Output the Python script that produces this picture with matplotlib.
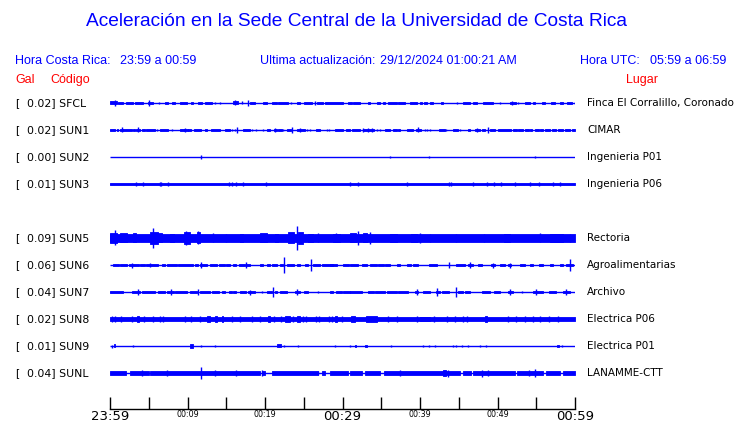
import matplotlib
matplotlib.use('Agg')
import matplotlib.pyplot as plt

# datos de las estaciones
codigos = ['SFCL', 'SUN1', 'SUN2', 'SUN3', 'SUN5', 'SUN6', 'SUN7', 'SUN8', 'SUN9', 'SUNL']
gal = [0.02, 0.02, 0.00, 0.01, 0.09, 0.06, 0.04, 0.02, 0.01, 0.04]
lugares = ['Finca El Corralillo, Coronado', 'CIMAR', 'Ingenieria P01', 'Ingenieria P06',
           'Rectoria', 'Agroalimentarias', 'Archivo', 'Electrica P06', 'Electrica P01',
           'LANAMME-CTT']
# ruido continuo (semi-amplitud), 0 = solo linea
banda = [0, 0, 0, 1.4, 3.6, 0, 0, 1.6, 0, 1.8]
tramos_sunl = [(0, 2.1), (2.6, 5.0), (5.2, 19.3), (19.6, 20.0), (20.9, 26.9), (27.3, 27.7),
               (28.4, 30.7), (31.0, 32.5), (32.9, 34.8), (35.3, 45.2), (45.6, 46.6),
               (46.9, 52.2), (52.5, 55.9), (56.2, 58.0), (58.4, 60)]

# rafagas: (minuto inicio, minuto fin, semi-amplitud)
sfcl = [(0.0, 0.9, 1.5), (0.6, 0.7, 2.7), (1.0, 1.7, 1.3), (2.1, 3.0, 1.3), (3.2, 4.3, 1.3),
        (4.9, 5.6, 1.3), (5.0, 5.0, 3.0), (6.3, 6.3, 1.0), (7.1, 7.5, 1.2), (8.0, 8.4, 1.2),
        (9.0, 9.9, 1.2), (10.4, 10.7, 1.0), (11.3, 11.9, 1.2), (12.3, 13.2, 1.2), (13.5, 13.5, 1.0),
        (14.2, 14.2, 1.0), (15.9, 16.5, 1.5), (16.1, 16.1, 2.5), (17.0, 17.1, 1.5), (17.8, 17.8, 3.0),
        (18.1, 18.7, 1.3), (19.7, 20.3, 1.2), (20.9, 21.5, 1.3), (21.7, 23.0, 1.3), (23.3, 23.3, 1.0),
        (24.1, 24.5, 1.2), (25.0, 26.1, 1.3), (26.4, 26.4, 2.0), (26.7, 27.5, 1.3), (27.7, 30.1, 1.3),
        (30.7, 31.2, 1.2), (31.4, 32.3, 1.3), (33.3, 33.5, 1.0), (34.5, 34.8, 1.2), (35.2, 35.5, 1.2),
        (35.9, 37.0, 1.3), (37.2, 38.1, 1.3), (38.7, 39.6, 1.3), (40.0, 40.3, 1.0), (40.5, 40.9, 1.2),
        (41.3, 41.7, 1.2), (42.7, 43.0, 1.2), (44.8, 44.8, 1.0), (45.5, 46.5, 1.3), (46.8, 47.4, 1.2),
        (48.1, 49.4, 1.3), (50.3, 50.3, 1.0), (51.6, 52.4, 1.3), (51.9, 51.9, 2.2), (52.6, 52.6, 1.0),
        (53.5, 54.2, 1.3), (54.6, 54.8, 1.2), (55.7, 56.1, 1.2), (56.9, 57.4, 1.3), (58.1, 58.5, 1.2),
        (59.0, 59.6, 1.2), (59.9, 60.0, 1.2)]
sun1 = [(0.0, 0.65, 1.3), (0.86, 1.07, 1.2), (1.3, 1.7, 1.3), (1.5, 1.5, 2.5), (1.7, 2.8, 1.3),
        (3.0, 3.2, 1.2), (3.4, 3.9, 1.3), (3.55, 3.55, 2.5), (4.1, 4.5, 1.2), (4.7, 5.8, 1.3),
        (6.1, 6.1, 1.0), (6.45, 7.5, 1.3), (8.0, 8.0, 1.0), (9.0, 9.5, 1.2), (9.5, 10.1, 1.3),
        (9.7, 9.7, 2.2), (10.1, 10.5, 1.2), (10.8, 11.8, 1.3), (12.3, 12.5, 1.2), (13.0, 14.2, 1.3),
        (14.8, 15.5, 1.3), (15.8, 15.8, 1.0), (16.1, 16.1, 1.0), (16.4, 16.4, 3.0), (17.1, 18.1, 1.3),
        (18.3, 18.3, 1.0), (18.9, 18.9, 1.0), (19.7, 19.7, 1.0), (20.2, 20.6, 1.2), (21.1, 21.5, 1.3),
        (21.3, 21.3, 2.2), (21.7, 22.2, 1.2), (22.3, 22.3, 1.0), (22.8, 23.4, 1.3), (23.5, 23.5, 3.0),
        (24.1, 25.2, 1.3), (24.5, 24.5, 2.2), (25.4, 25.4, 1.0), (25.8, 25.8, 1.0), (26.6, 27.1, 1.2),
        (28.0, 28.0, 1.0), (28.3, 28.3, 1.0), (29.0, 30.1, 1.3), (30.5, 31.0, 1.2), (31.2, 32.3, 1.3),
        (32.6, 34.0, 1.3), (32.7, 32.7, 2.2), (33.3, 33.3, 2.2), (33.8, 33.8, 2.2), (34.4, 34.4, 1.0),
        (34.8, 34.8, 1.0), (35.5, 36.1, 1.2), (36.5, 37.0, 1.2), (37.2, 37.4, 1.2), (38.3, 39.1, 1.3),
        (39.5, 40.1, 1.3), (39.7, 39.7, 2.5), (40.6, 40.6, 1.0), (40.9, 40.9, 1.0), (41.3, 41.3, 1.0),
        (42.4, 43.2, 1.3), (43.4, 43.4, 1.0), (44.3, 44.9, 1.2), (45.2, 45.2, 1.0), (46.2, 46.5, 1.2),
        (47.1, 47.7, 1.3), (47.4, 47.4, 2.2), (48.0, 48.4, 1.2), (48.8, 48.8, 2.8), (49.0, 49.7, 1.3),
        (50.1, 51.8, 1.3), (52.0, 52.5, 1.2), (52.7, 53.3, 1.2), (53.5, 54.0, 1.2), (54.2, 54.4, 1.2),
        (54.8, 55.3, 1.2), (55.5, 55.9, 1.2), (56.1, 56.8, 1.2), (57.0, 57.6, 1.2), (57.8, 58.5, 1.2),
        (58.7, 59.4, 1.2), (59.6, 60.0, 1.3)]
sun2 = [(11.7, 11.7, 2.0), (36.1, 36.1, 1.0), (41.2, 41.2, 1.0), (54.8, 54.8, 1.0)]
sun3 = [(t, t, 2.4) for t in [3.35, 4.3, 6.4, 6.6, 7.5, 15.3, 15.7, 16.3, 17.2, 20.1, 31.0, 32.0,
                              38.3, 43.7, 44.0, 46.9, 48.6, 49.5, 50.5, 52.3, 54.2, 55.3, 57.2, 58.1]]
sun5 = [(0.0, 0.9, 5.0), (0.65, 0.65, 7.5), (1.3, 2.2, 4.5), (3.0, 3.4, 4.5), (5.2, 6.2, 6.0),
        (5.6, 5.6, 10.0), (6.2, 6.7, 4.5), (7.7, 8.2, 4.0), (9.5, 10.3, 6.0), (9.8, 9.8, 7.0),
        (11.2, 11.6, 5.5), (11.4, 11.4, 6.5), (13.3, 13.3, 4.5), (15.0, 15.0, 4.0), (16.8, 17.2, 3.8),
        (19.3, 20.2, 4.5), (21.3, 21.7, 4.0), (23.0, 23.7, 5.5), (24.1, 24.1, 12.0), (24.3, 24.9, 6.0),
        (25.6, 26.2, 4.0), (26.9, 26.9, 4.5), (28.8, 29.7, 4.0), (29.2, 29.2, 4.5), (31.0, 31.8, 4.5),
        (32.0, 32.0, 7.0), (32.7, 33.1, 4.5), (33.5, 33.5, 6.0), (36.1, 37.0, 4.0), (38.9, 39.6, 4.0),
        (40.0, 40.0, 5.0), (41.3, 41.3, 4.0), (44.7, 44.7, 3.8), (48.2, 48.2, 4.0), (50.8, 51.6, 3.8),
        (55.5, 55.5, 4.5), (56.8, 58.5, 3.8), (59.4, 59.4, 4.0)]
sun6 = [(0.43, 1.1, 1.4), (1.3, 2.2, 1.4), (2.4, 3.7, 1.4), (2.9, 2.9, 2.5), (3.9, 4.5, 1.4),
        (4.7, 6.2, 1.4), (5.1, 5.1, 2.0), (6.7, 7.1, 1.3), (7.3, 8.6, 1.4), (8.8, 10.7, 1.4),
        (11.0, 11.4, 1.3), (11.6, 12.5, 1.4), (11.8, 11.8, 3.0), (12.9, 13.8, 1.4), (14.0, 14.8, 1.4),
        (15.0, 15.5, 1.3), (15.9, 16.3, 1.3), (16.6, 17.4, 1.4), (17.6, 18.1, 1.4), (17.6, 17.6, 3.0),
        (19.3, 19.8, 1.3), (20.2, 20.6, 1.3), (20.9, 21.5, 1.4), (21.9, 22.3, 1.3), (22.4, 22.4, 8.0),
        (22.8, 23.7, 1.4), (24.1, 24.5, 1.3), (25.2, 25.6, 1.3), (25.9, 25.9, 6.0), (26.2, 27.1, 1.4),
        (27.3, 28.8, 1.4), (28.4, 29.3, 1.4), (30.1, 30.8, 1.4), (31.0, 32.0, 1.4), (32.5, 33.1, 1.4),
        (33.6, 34.4, 1.4), (34.6, 35.3, 1.4), (35.5, 36.1, 1.4), (37.0, 37.4, 1.3), (38.3, 38.9, 1.4),
        (39.1, 39.8, 1.4), (41.1, 42.2, 1.4), (43.7, 43.7, 3.0), (44.7, 45.8, 1.4), (46.2, 46.9, 1.4),
        (46.4, 46.4, 3.0), (47.5, 48.0, 1.4), (49.2, 49.7, 1.4), (49.4, 49.4, 2.5), (50.3, 51.0, 1.4),
        (51.4, 51.8, 1.4), (51.6, 51.6, 2.5), (52.9, 53.5, 1.4), (54.2, 54.6, 1.3), (55.3, 55.9, 1.4),
        (56.8, 57.2, 1.3), (58.1, 58.5, 1.3), (58.9, 59.8, 1.4), (59.4, 59.4, 6.0)]
sun7 = [(0.0, 1.7, 1.3), (2.8, 3.9, 1.3), (3.57, 3.57, 3.0), (4.1, 5.8, 1.4), (6.2, 7.1, 1.3),
        (7.3, 8.2, 1.3), (7.9, 7.9, 3.0), (8.4, 9.9, 1.3), (10.3, 11.2, 1.3), (11.4, 11.4, 3.0),
        (11.6, 12.9, 1.3), (13.1, 14.0, 1.3), (14.4, 14.8, 1.2), (15.3, 15.7, 1.2), (15.9, 16.3, 1.2),
        (16.8, 17.6, 1.3), (17.8, 18.7, 1.4), (18.1, 18.1, 2.5), (19.6, 19.6, 1.0), (20.2, 20.9, 1.3),
        (21.07, 21.07, 5.0), (21.3, 21.5, 1.2), (21.9, 22.8, 1.3), (23.9, 24.5, 1.4), (24.1, 24.1, 3.0),
        (25.0, 25.6, 1.3), (26.9, 26.9, 1.0), (28.4, 28.8, 1.2), (29.2, 29.9, 1.3), (30.1, 31.0, 1.3),
        (31.0, 32.5, 1.3), (33.3, 34.0, 1.3), (34.2, 35.5, 1.3), (35.7, 37.0, 1.3), (37.2, 38.5, 1.3),
        (39.4, 39.8, 1.4), (39.6, 39.6, 3.0), (40.4, 41.3, 1.4), (42.1, 42.6, 1.4), (42.2, 42.2, 4.0),
        (42.8, 43.7, 1.3), (44.6, 44.6, 5.0), (44.9, 45.6, 1.3), (45.8, 46.4, 1.3), (48.0, 49.0, 1.4),
        (49.5, 50.3, 1.3), (51.4, 52.0, 1.4), (51.6, 51.6, 3.0), (53.1, 53.1, 1.0), (54.6, 55.9, 1.4),
        (55.0, 55.0, 3.0), (56.6, 57.6, 1.3), (58.5, 59.4, 1.4), (58.9, 58.9, 3.0)]
sun8 = [(t, t, 2.6) for t in [0.2, 0.65, 1.4, 2.8, 4.4, 5.6, 6.4, 6.9, 9.7, 11.6, 15.8, 16.8, 18.3,
                              19.3, 21.1, 22.1, 23.6, 24.9, 25.3, 26.6, 27.0, 28.2, 28.6, 29.9,
                              35.9, 37.0, 39.6, 41.8, 43.5, 44.5, 45.5, 46.0, 51.4, 52.4, 53.5,
                              54.6, 55.5, 56.6, 57.8]] + \
       [(3.5, 3.7, 2.6), (10.4, 10.4, 3.2), (12.5, 12.9, 2.5), (13.5, 13.8, 2.5), (14.4, 14.6, 2.5),
        (20.4, 20.6, 2.5), (22.6, 23.2, 2.5), (24.1, 24.5, 2.5), (29.0, 29.3, 2.5), (31.1, 31.6, 2.5),
        (33.0, 34.4, 2.5), (40.0, 41.3, 2.4), (48.4, 48.6, 2.8)]
sun9 = [(0.2, 0.2, 1.5), (0.5, 0.7, 1.5), (3.0, 3.0, 1.2), (10.3, 10.7, 1.7), (11.8, 11.8, 1.2),
        (13.5, 13.5, 1.2), (21.5, 22.1, 1.5), (22.4, 22.4, 1.2), (24.3, 24.3, 1.3), (29.0, 29.0, 1.3),
        (31.0, 31.0, 1.2), (31.6, 31.8, 1.3), (32.9, 33.2, 1.4), (36.3, 36.3, 1.2), (40.4, 40.4, 1.2),
        (41.2, 41.2, 1.3), (41.9, 41.9, 1.3), (44.3, 44.3, 1.2), (44.7, 44.7, 1.2), (45.4, 45.4, 1.2),
        (46.2, 46.2, 1.2), (47.7, 47.7, 1.3), (48.5, 48.5, 1.3), (57.7, 57.9, 1.4), (58.3, 58.4, 1.4)]
sunl = [(4.1, 4.1, 2.5), (7.3, 7.3, 2.5), (11.7, 11.7, 5.7), (13.6, 13.6, 3.0), (16.3, 16.3, 2.5),
        (19.6, 19.6, 2.5), (26.9, 26.9, 2.0), (37.4, 37.4, 2.5), (43.0, 43.3, 3.0), (43.6, 43.6, 3.5),
        (48.0, 48.0, 3.5), (48.8, 48.8, 2.5), (54.0, 54.0, 2.5), (54.8, 54.8, 4.5)]
rafagas = [sfcl, sun1, sun2, sun3, sun5, sun6, sun7, sun8, sun9, sunl]

etiquetas_x = ['23:59', '', '00:09', '', '00:19', '', '00:29', '', '00:39', '', '00:49', '', '00:59']

AZUL = '#0000ff'
ROJO = '#ff0000'
W, H = 740, 423

def fx(px):
    return px / W

def fy(py):
    return 1 - py / H

fig = plt.figure(figsize=(7.4, 4.23), dpi=100)
# eje de trazas: x 110..575 px, y 90..409 px, filas cada 27 px desde y=103
ax = fig.add_axes([fx(110), fy(409), fx(575) - fx(110), fy(90) - fy(409)])
ax.set_xlim(0, 60)
ax.set_ylim((409 - 103) / 27, (90 - 103) / 27)
k = 1 / 27.0  # px -> unidades de fila

filas = [0, 1, 2, 3, 5, 6, 7, 8, 9, 10]
for i, c in enumerate(codigos):
    r = filas[i]
    ax.hlines(r, 0, 60, color=AZUL, lw=1.0)
    if banda[i] > 0:
        tramos = tramos_sunl if c == 'SUNL' else [(0, 60)]
        for t0, t1 in tramos:
            ax.fill_between([t0, t1], r - banda[i] * k, r + banda[i] * k,
                            facecolor=AZUL, edgecolor=AZUL, lw=0.6)
    for t0, t1, a in rafagas[i]:
        if t1 - t0 < 0.15:
            ax.vlines((t0 + t1) / 2, r - a * k, r + a * k, color=AZUL, lw=1.0)
        else:
            ax.fill_between([t0, t1], r - a * k, r + a * k,
                            facecolor=AZUL, edgecolor=AZUL, lw=0.6)

    y = fy(103 + 27 * r)
    fig.text(fx(15), y, '[', fontsize=7.8, va='center', family='DejaVu Sans')
    fig.text(fx(27), y, '%.2f] %s' % (gal[i], c), fontsize=7.8, va='center', family='DejaVu Sans')
    fig.text(fx(587), y, lugares[i], fontsize=7.5, va='center', family='DejaVu Sans')

for s in ['top', 'left', 'right']:
    ax.spines[s].set_visible(False)
ax.spines['bottom'].set_linewidth(1.0)
ax.set_yticks([])
ax.set_xticks(range(0, 61, 5))
ax.set_xticklabels(etiquetas_x)
ax.tick_params(axis='x', direction='in', length=9, width=1.0, pad=1)
for j, lab in enumerate(ax.get_xticklabels()):
    lab.set_fontsize(9.5 if j in (0, 6, 12) else 5.8)
    lab.set_family('DejaVu Sans')

# encabezados
fig.text(fx(357), fy(22), 'Aceleración en la Sede Central de la Universidad de Costa Rica',
         color=AZUL, fontsize=13.8, ha='center', va='center', family='Liberation Sans')
cab = dict(color=AZUL, fontsize=9, va='center', family='Liberation Sans')
fig.text(fx(15), fy(61), 'Hora Costa Rica:', **cab)
fig.text(fx(120), fy(61), '23:59 a 00:59', **cab)
fig.text(fx(260), fy(61), 'Ultima actualización:', **cab)
fig.text(fx(380), fy(61), '29/12/2024 01:00:21 AM', **cab)
fig.text(fx(580), fy(61), 'Hora UTC:', **cab)
fig.text(fx(650), fy(61), '05:59 a 06:59', **cab)
roj = dict(color=ROJO, fontsize=9, va='center', family='Liberation Sans')
fig.text(fx(15), fy(80), 'Gal', **roj)
fig.text(fx(50), fy(80), 'Código', **roj)
fig.text(fx(626), fy(80), 'Lugar', **roj)

fig.savefig('out.png', dpi=100)
